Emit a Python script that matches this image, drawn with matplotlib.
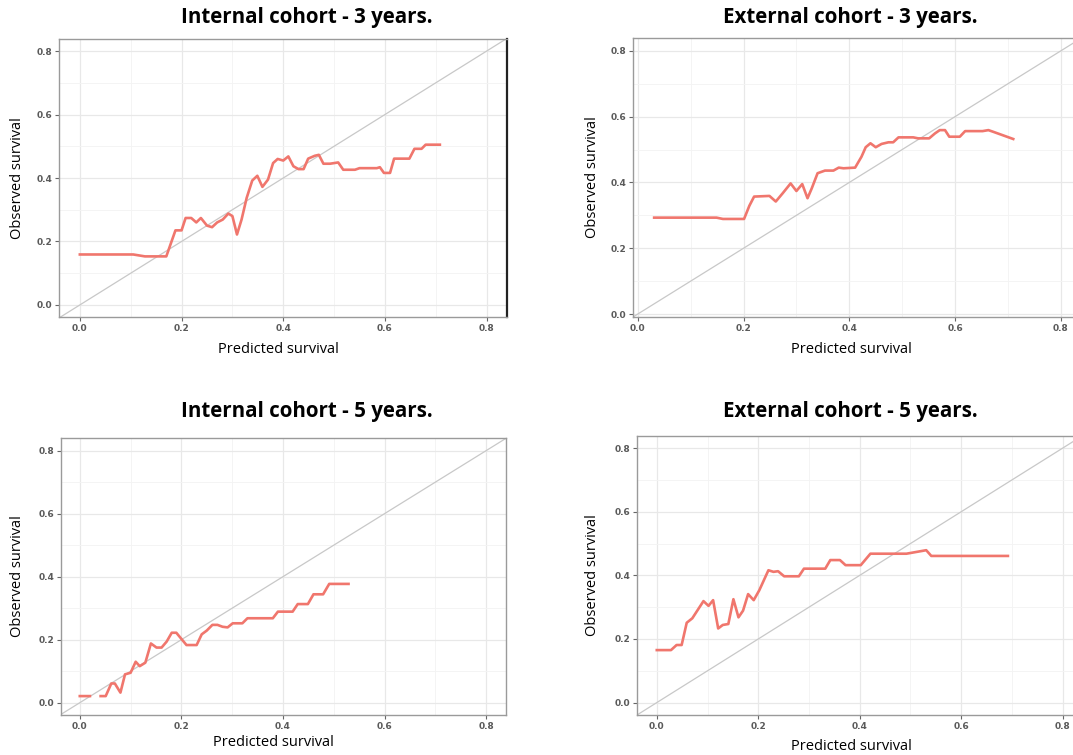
import matplotlib

matplotlib.use('Agg')
import matplotlib.pyplot as plt
import numpy as np

# Calibration curves (predicted vs observed survival)
int3_pred = [0.00, 0.105, 0.128, 0.17, 0.188, 0.20, 0.208, 0.219, 0.229, 0.238, 0.25, 0.26,
             0.27, 0.281, 0.292, 0.30, 0.309, 0.318, 0.328, 0.339, 0.349, 0.359, 0.37, 0.38,
             0.389, 0.40, 0.41, 0.42, 0.43, 0.44, 0.449, 0.462, 0.47, 0.479, 0.492, 0.508,
             0.518, 0.541, 0.55, 0.584, 0.59, 0.598, 0.61, 0.618, 0.648, 0.658, 0.672, 0.68, 0.708]
int3_obs = [0.159, 0.159, 0.153, 0.153, 0.235, 0.235, 0.274, 0.274, 0.26, 0.274, 0.25, 0.245,
            0.26, 0.269, 0.288, 0.28, 0.222, 0.269, 0.337, 0.392, 0.407, 0.372, 0.395, 0.447,
            0.46, 0.455, 0.468, 0.437, 0.428, 0.428, 0.461, 0.47, 0.473, 0.445, 0.445, 0.449,
            0.426, 0.426, 0.431, 0.431, 0.434, 0.416, 0.416, 0.461, 0.461, 0.492, 0.492, 0.505, 0.505]

ext3_pred = [0.031, 0.149, 0.161, 0.201, 0.211, 0.22, 0.249, 0.261, 0.274, 0.289, 0.30, 0.311,
             0.321, 0.329, 0.34, 0.354, 0.37, 0.38, 0.389, 0.411, 0.423, 0.431, 0.44, 0.45,
             0.461, 0.474, 0.483, 0.493, 0.521, 0.53, 0.551, 0.562, 0.571, 0.581, 0.589, 0.609,
             0.619, 0.652, 0.663, 0.672, 0.71]
ext3_obs = [0.293, 0.293, 0.289, 0.289, 0.329, 0.357, 0.359, 0.342, 0.367, 0.397, 0.374, 0.395,
            0.352, 0.382, 0.428, 0.436, 0.436, 0.445, 0.443, 0.445, 0.478, 0.507, 0.519, 0.507,
            0.517, 0.522, 0.522, 0.537, 0.537, 0.534, 0.534, 0.549, 0.559, 0.559, 0.539, 0.539,
            0.556, 0.556, 0.559, 0.554, 0.532]

int5_pred = [0.00, 0.02, 0.03, 0.041, 0.051, 0.062, 0.069, 0.08, 0.089, 0.10, 0.11, 0.118,
             0.129, 0.14, 0.151, 0.161, 0.171, 0.181, 0.19, 0.21, 0.23, 0.24, 0.25, 0.261,
             0.271, 0.281, 0.291, 0.301, 0.32, 0.33, 0.38, 0.39, 0.419, 0.429, 0.449, 0.46,
             0.479, 0.491, 0.529]
int5_obs = [0.021, 0.021, np.nan, 0.021, 0.021, 0.061, 0.061, 0.032, 0.09, 0.095, 0.13, 0.116,
            0.127, 0.188, 0.175, 0.175, 0.194, 0.222, 0.222, 0.183, 0.183, 0.217, 0.229, 0.247,
            0.247, 0.241, 0.239, 0.252, 0.252, 0.268, 0.268, 0.289, 0.289, 0.313, 0.313, 0.344,
            0.344, 0.377, 0.377]

ext5_pred = [0.00, 0.028, 0.039, 0.049, 0.059, 0.07, 0.092, 0.102, 0.111, 0.121, 0.13, 0.141,
             0.151, 0.161, 0.17, 0.18, 0.191, 0.202, 0.22, 0.23, 0.239, 0.251, 0.28, 0.29,
             0.332, 0.342, 0.361, 0.372, 0.402, 0.421, 0.492, 0.531, 0.541, 0.692]
ext5_obs = [0.165, 0.165, 0.181, 0.181, 0.251, 0.265, 0.319, 0.304, 0.322, 0.233, 0.244, 0.247,
            0.325, 0.268, 0.289, 0.341, 0.322, 0.353, 0.416, 0.411, 0.413, 0.397, 0.397, 0.421,
            0.421, 0.448, 0.448, 0.432, 0.432, 0.468, 0.468, 0.479, 0.461, 0.461]

titles = ['Internal cohort - 3 years.', 'External cohort - 3 years.',
          'Internal cohort - 5 years.', 'External cohort - 5 years.']
ticks = [0.0, 0.2, 0.4, 0.6, 0.8]
tick_labels = ['0.0', '0.2', '0.4', '0.6', '0.8']

W, H = 1073, 755
RED = '#F0766D'

# each panel: axes box in pixels (left, top, right, bottom), xlim, ylim, title pos, ylabel x, xlabel pos
panels = [
    dict(box=(59, 39, 507, 317), xlim=(-0.041, 0.840), ylim=(-0.038, 0.838),
         title=(307, 18), ylab=18, xlab=(278, 350), data=(int3_pred, int3_obs)),
    dict(box=(633, 38, 1082, 317), xlim=(-0.009, 0.840), ylim=(-0.009, 0.839),
         title=(850, 18), ylab=593, xlab=(851, 350), data=(ext3_pred, ext3_obs)),
    dict(box=(61, 438, 506, 715), xlim=(-0.037, 0.839), ylim=(-0.039, 0.840),
         title=(307, 412), ylab=18, xlab=(273, 743), data=(int5_pred, int5_obs)),
    dict(box=(637, 436, 1083, 715), xlim=(-0.039, 0.840), ylim=(-0.039, 0.838),
         title=(850, 411), ylab=593, xlab=(851, 746), data=(ext5_pred, ext5_obs)),
]

fig = plt.figure(figsize=(W / 100, H / 100), dpi=100)

for i, p in enumerate(panels):
    l, t, r, b = p['box']
    ax = fig.add_axes([l / W, 1 - b / H, (r - l) / W, (b - t) / H])
    ax.set_xlim(*p['xlim'])
    ax.set_ylim(*p['ylim'])

    # ggplot theme_bw style grid
    ax.set_xticks(ticks)
    ax.set_yticks(ticks)
    ax.set_xticks([0.1, 0.3, 0.5, 0.7], minor=True)
    ax.set_yticks([0.1, 0.3, 0.5, 0.7], minor=True)
    ax.grid(True, which='major', color='#e8e8e8', linewidth=0.9)
    ax.grid(True, which='minor', color='#f3f3f3', linewidth=0.6)
    ax.set_axisbelow(True)
    ax.tick_params(which='minor', length=0)
    ax.tick_params(which='major', length=3, width=0.8, color='#666666', pad=2,
                   labelsize=6.5, labelcolor='#5a5a5a')
    ax.set_xticklabels(tick_labels, fontweight='bold')
    ax.set_yticklabels(tick_labels, fontweight='bold')
    for s in ax.spines.values():
        s.set_color('#9a9a9a')
        s.set_linewidth(1.0)
    if i == 0:
        ax.spines['right'].set_color('#222222')
        ax.spines['right'].set_linewidth(1.6)

    # reference diagonal
    ax.axline((0, 0), (0.8, 0.8), color='#c8c8c8', linewidth=0.9, zorder=2)
    xs, ys = p['data']
    ax.plot(xs, ys, color=RED, linewidth=1.9, zorder=3)

    tx, ty = p['title']
    fig.text(tx / W, 1 - ty / H, titles[i], ha='center', va='center',
             fontsize=14.8, fontweight='bold', family='Open Sans')
    fig.text(p['ylab'] / W, 1 - ((t + b) / 2) / H, 'Observed survival', rotation=90,
             ha='center', va='center', fontsize=10.5, family='Open Sans')
    xl, yl = p['xlab']
    fig.text(xl / W, 1 - yl / H, 'Predicted survival', ha='center', va='center',
             fontsize=10.5, family='Open Sans')

plt.savefig('out.png', dpi=100)
